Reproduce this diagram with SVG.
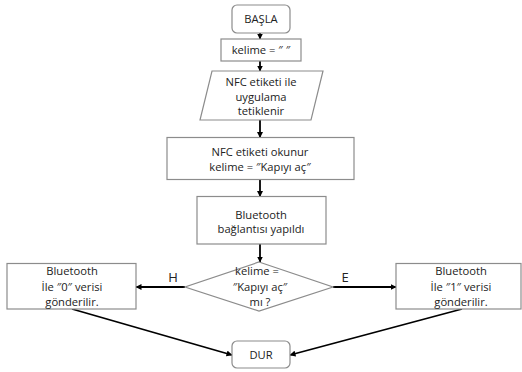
<svg xmlns="http://www.w3.org/2000/svg" width="522" height="372" viewBox="0 0 522 372">
<defs>
<marker id="ah" markerWidth="6" markerHeight="6" refX="5.5" refY="3" orient="auto" markerUnits="userSpaceOnUse">
<path d="M0,0 L6,3 L0,6 Z" fill="#000"/>
</marker>
<style>
.box{fill:#fff;stroke:#8c8c8c;stroke-width:1.2}
.t{font-family:"Open Sans","Liberation Sans",sans-serif;font-size:11.2px;fill:#222;text-anchor:middle}
.lbl{font-family:"Open Sans","Liberation Sans",sans-serif;font-size:13px;fill:#222;text-anchor:middle}
.c{stroke:#000;stroke-width:1.8;fill:none}
.a{marker-end:url(#ah)}
</style>
</defs>
<rect width="522" height="372" fill="#fff"/>
<g id="connectors">
<line class="c a" x1="260" y1="33" x2="260" y2="39"/>
<line class="c a" x1="260" y1="61" x2="260" y2="71"/>
<line class="c a" x1="260" y1="120" x2="260" y2="137.5"/>
<line class="c a" x1="260" y1="179.5" x2="260" y2="196.5"/>
<line class="c a" x1="260" y1="244" x2="260" y2="262"/>
<line class="c a" x1="185" y1="287" x2="136" y2="287"/>
<line class="c a" x1="333" y1="287" x2="396" y2="287"/>
<line class="c a" x1="72" y1="309" x2="232" y2="355"/>
<line class="c a" x1="462" y1="309" x2="290" y2="355"/>
<text class="lbl" x="173" y="282">H</text>
<text class="lbl" x="345" y="282">E</text>
</g>
<g id="basla">
<rect class="box" x="232" y="5" width="58" height="28" rx="5"/>
<text class="t" x="261" y="23">BAŞLA</text>
</g>
<g id="kelime-init">
<rect class="box" x="221" y="39" width="80" height="22"/>
<text class="t" x="261" y="54">kelime = ″ ″</text>
</g>
<g id="nfc-trigger">
<polygon class="box" points="212,71 323,71 311,120 200,120"/>
<text class="t" x="261" y="85.5">NFC etiketi ile</text>
<text class="t" x="261" y="100.5">uygulama</text>
<text class="t" x="261" y="114.5">tetiklenir</text>
</g>
<g id="nfc-read">
<rect class="box" x="167" y="137.5" width="187" height="42"/>
<text class="t" x="260" y="155.5">NFC etiketi okunur</text>
<text class="t" x="260" y="170.5">kelime = ″Kapıyı aç″</text>
</g>
<g id="bt-connect">
<rect class="box" x="197" y="196.5" width="129" height="47.5"/>
<text class="t" x="261" y="219">Bluetooth</text>
<text class="t" x="261" y="232.5">bağlantısı yapıldı</text>
</g>
<g id="decision">
<polygon class="box" points="259,262 333,287 259,311 185,287"/>
<text class="t" x="257" y="275">kelime =</text>
<text class="t" x="260" y="290.5">″Kapıyı aç″</text>
<text class="t" x="260" y="305.5">mı ?</text>
</g>
<g id="send0">
<rect class="box" x="7" y="263.5" width="129" height="45.5"/>
<text class="t" x="72" y="275">Bluetooth</text>
<text class="t" x="72" y="290.5">İle ″0″ verisi</text>
<text class="t" x="72" y="306">gönderilir.</text>
</g>
<g id="send1">
<rect class="box" x="396" y="263.5" width="125" height="45.5"/>
<text class="t" x="461" y="275">Bluetooth</text>
<text class="t" x="461" y="290.5">İle ″1″ verisi</text>
<text class="t" x="461" y="306">gönderilir.</text>
</g>
<g id="dur">
<rect class="box" x="232" y="341" width="58" height="27" rx="5"/>
<text class="t" x="261" y="358.5">DUR</text>
</g>
</svg>
